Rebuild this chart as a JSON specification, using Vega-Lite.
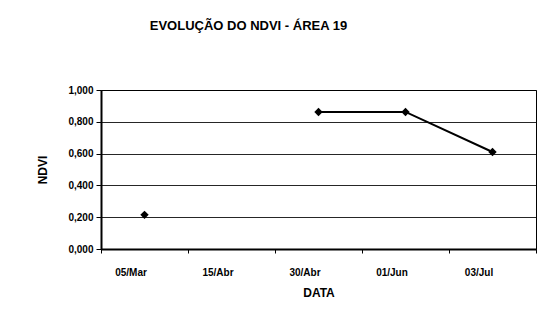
{
  "$schema": "https://vega.github.io/schema/vega-lite/v6.json",
  "autosize": "none",
  "width": 435,
  "height": 159,
  "padding": {"left": 101, "top": 90, "right": 10, "bottom": 73},
  "background": "white",
  "config": {
    "locale": {"number": {"decimal": ",", "thousands": ".", "grouping": [3], "currency": ["", ""]}},
    "font": "Liberation Sans",
    "view": {"stroke": "black", "strokeWidth": 1}
  },
  "title": {
    "text": "EVOLUÇÃO DO NDVI - ÁREA 19",
    "fontSize": 13,
    "fontWeight": "bold",
    "color": "black",
    "anchor": "middle",
    "frame": "group",
    "dx": -70,
    "offset": 52
  },
  "data": {
    "values": [
      {"data": "05/Mar", "ndvi": 0.215},
      {"data": "15/Abr", "ndvi": null},
      {"data": "30/Abr", "ndvi": 0.862},
      {"data": "01/Jun", "ndvi": 0.862},
      {"data": "03/Jul", "ndvi": 0.61}
    ]
  },
  "encoding": {
    "x": {
      "field": "data",
      "type": "ordinal",
      "sort": null,
      "title": "DATA",
      "axis": {
        "labelAngle": 0,
        "labelFont": "Liberation Sans",
        "labelFontSize": 10,
        "labelFontWeight": "bold",
        "labelColor": "black",
        "labelOffset": -14,
        "labelPadding": 14,
        "ticks": true,
        "tickBand": "extent",
        "tickColor": "black",
        "tickSize": 4,
        "domainColor": "black",
        "domainWidth": 2,
        "titleFontSize": 12,
        "titleFontWeight": "bold",
        "titleColor": "black",
        "titlePadding": 10,
        "grid": false
      },
      "scale": {"paddingInner": 0, "paddingOuter": 0}
    },
    "y": {
      "field": "ndvi",
      "type": "quantitative",
      "title": "NDVI",
      "scale": {"domain": [0, 1], "nice": false},
      "axis": {
        "values": [0, 0.2, 0.4, 0.6, 0.8, 1.0],
        "format": ".3f",
        "labelFont": "Liberation Sans",
        "labelFontSize": 10,
        "labelFontWeight": "bold",
        "labelColor": "black",
        "labelPadding": 3,
        "tickColor": "black",
        "tickSize": 5,
        "domainColor": "black",
        "domainWidth": 2,
        "gridColor": "black",
        "gridOpacity": 0.85,
        "gridWidth": 1,
        "titleFontSize": 12,
        "titleFontWeight": "bold",
        "titleColor": "black",
        "titlePadding": 18
      }
    }
  },
  "layer": [
    {
      "mark": {"type": "line", "color": "black", "strokeWidth": 2, "invalid": "break-paths-show-domains"}
    },
    {
      "mark": {"type": "point", "shape": "diamond", "filled": true, "color": "black", "size": 70, "opacity": 1}
    }
  ]
}
